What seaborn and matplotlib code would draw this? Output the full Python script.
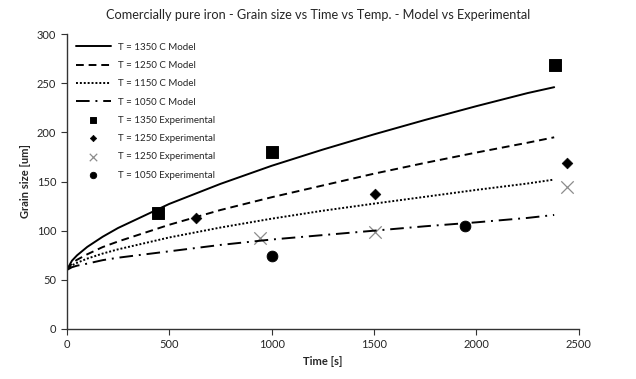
import matplotlib
matplotlib.use("Agg")
import matplotlib.pyplot as plt
import seaborn as sns

# model curves
t_model = [0, 25, 50, 100, 175, 250, 500, 750, 1000, 1250, 1500, 1750, 2000, 2250, 2380]
model_1350 = [60, 69.4, 74.9, 83.5, 93.8, 102.7, 127.2, 147.6, 166, 182.5, 198, 212.7, 226.7, 240, 246]
model_1250 = [60, 66.6, 70.4, 76, 83.3, 89, 106, 121, 134, 146, 158, 169, 179.5, 189.5, 195]
model_1150 = [60, 64.7, 67.3, 71.6, 76.7, 81, 93.1, 103.2, 112.2, 120.3, 127.5, 134.5, 141.5, 148, 152]
model_1050 = [60, 62.8, 64.4, 66.5, 70, 72.5, 79, 85.5, 91, 95.5, 100, 104.5, 108.5, 113, 116]

# experimental points
t_exp_1350 = [443, 1004, 2383]
g_exp_1350 = [118, 180, 269]
t_exp_1250 = [630, 1504, 2445]
g_exp_1250 = [113, 137, 169]
t_exp_1250x = [942, 1504, 2445]
g_exp_1250x = [93, 99, 144]
t_exp_1050 = [1004, 1945]
g_exp_1050 = [74.5, 105]

sns.set_style("white")
plt.rcParams["font.family"] = ["Lato", "DejaVu Sans"]

fig = plt.figure(figsize=(6.36, 3.79), dpi=100)
ax = fig.add_axes([0.105, 0.132, 0.805, 0.778])

lines = [
    (model_1350, "T = 1350 C Model", "-"),
    (model_1250, "T = 1250 C Model", (0, (4, 2.5))),
    (model_1150, "T = 1150 C Model", (0, (1, 1))),
    (model_1050, "T = 1050 C Model", (0, (7, 3, 1, 3))),
]
for vals, lab, ls in lines:
    sns.lineplot(x=t_model, y=vals, ax=ax, color="black", lw=1.4,
                 linestyle=ls, label=lab)

sns.scatterplot(x=t_exp_1350, y=g_exp_1350, ax=ax, marker="s", s=70,
                color="black", edgecolor="black", label="T = 1350 Experimental")
sns.scatterplot(x=t_exp_1250, y=g_exp_1250, ax=ax, marker="D", s=30,
                color="black", edgecolor="black", label="T = 1250 Experimental")
sns.scatterplot(x=t_exp_1250x, y=g_exp_1250x, ax=ax, marker="x", s=80,
                color="#8c8c8c", linewidth=0.9, label="T = 1250 Experimental")
sns.scatterplot(x=t_exp_1050, y=g_exp_1050, ax=ax, marker="o", s=60,
                color="black", edgecolor="black", label="T = 1050 Experimental")

ax.set_xlim(0, 2500)
ax.set_ylim(0, 300)
ax.set_xticks(range(0, 2501, 500))
ax.set_yticks(range(0, 301, 50))
ax.tick_params(axis="both", labelsize=8, direction="out", length=4,
               color="#333333", bottom=True, left=True)
for s in ["top", "right"]:
    ax.spines[s].set_visible(False)
for s in ["left", "bottom"]:
    ax.spines[s].set_color("#333333")
    ax.spines[s].set_linewidth(1)

ax.set_xlabel("Time [s]", fontsize=8, fontweight="bold")
ax.set_ylabel("Grain size [um]", fontsize=8, fontweight="bold")
fig.suptitle("Comercially pure iron - Grain size vs Time vs Temp. - Model vs Experimental",
             fontsize=9.2, y=0.975)

ax.legend(loc="upper left", frameon=False, fontsize=7, handlelength=3.6,
          labelspacing=0.95, markerscale=0.6, bbox_to_anchor=(0.0, 1.0))

fig.savefig("out.png", dpi=100)
